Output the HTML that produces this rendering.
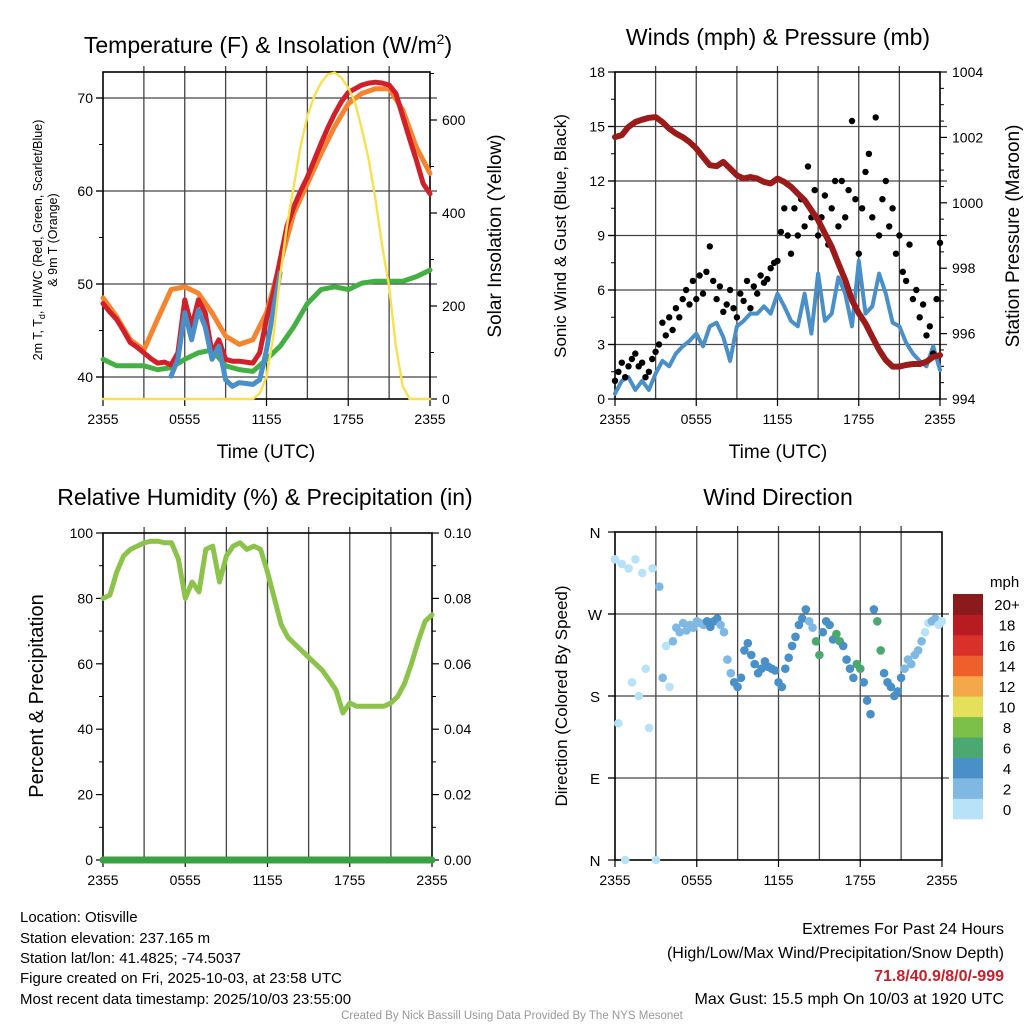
<!DOCTYPE html>
<html><head><meta charset="utf-8">
<style>
html,body{margin:0;padding:0;background:#fff;}
svg{display:block;font-family:"Liberation Sans",Arial,sans-serif;}
</style></head>
<body>
<svg id="chart" width="1024" height="1024" viewBox="0 0 1024 1024">
<rect width="1024" height="1024" fill="#fff"/>
<g id="g1"></g>
<g id="g2"></g>
<g id="g3"></g>
<g id="g4"></g>

<text x="268" y="53" font-size="23" text-anchor="middle">Temperature (F) &amp; Insolation (W/m<tspan dy="-9" font-size="14">2</tspan><tspan dy="9">)</tspan></text>
<text x="778" y="45" font-size="23" text-anchor="middle">Winds (mph) &amp; Pressure (mb)</text>
<text x="265" y="505" font-size="23" text-anchor="middle">Relative Humidity (%) &amp; Precipitation (in)</text>
<text x="778" y="505" font-size="23" text-anchor="middle">Wind Direction</text>

<text x="266" y="458" font-size="19" text-anchor="middle">Time (UTC)</text>
<text x="778" y="458" font-size="19" text-anchor="middle">Time (UTC)</text>

<text transform="translate(42,240) rotate(-90)" font-size="12.5" text-anchor="middle">2m T, T<tspan font-size="9" dy="3">d</tspan><tspan dy="-3">, HI/WC (Red, Green, Scarlet/Blue)</tspan></text>
<text transform="translate(57,240) rotate(-90)" font-size="12.5" text-anchor="middle">&amp; 9m T (Orange)</text>
<text transform="translate(501,236) rotate(-90)" font-size="19" text-anchor="middle">Solar Insolation (Yellow)</text>
<text transform="translate(566,236) rotate(-90)" font-size="17" text-anchor="middle">Sonic Wind &amp; Gust (Blue, Black)</text>
<text transform="translate(1019,236) rotate(-90)" font-size="19" text-anchor="middle">Station Pressure (Maroon)</text>
<text transform="translate(43,696) rotate(-90)" font-size="20" text-anchor="middle">Percent &amp; Precipitation</text>
<text transform="translate(567,696) rotate(-90)" font-size="17" text-anchor="middle">Direction (Colored By Speed)</text>

<g font-size="15">
<text x="20" y="922">Location: Otisville</text>
<text x="20" y="943">Station elevation: 237.165 m</text>
<text x="20" y="963">Station lat/lon: 41.4825; -74.5037</text>
<text x="20" y="983">Figure created on Fri, 2025-10-03, at 23:58 UTC</text>
<text x="20" y="1004">Most recent data timestamp: 2025/10/03 23:55:00</text>
</g>
<g font-size="16" text-anchor="end">
<text x="1004" y="934">Extremes For Past 24 Hours</text>
<text x="1004" y="958">(High/Low/Max Wind/Precipitation/Snow Depth)</text>
<text x="1004" y="981" fill="#c8202a" font-weight="bold">71.8/40.9/8/0/-999</text>
<text x="1004" y="1004">Max Gust: 15.5 mph On 10/03 at 1920 UTC</text>
</g>
<text x="512" y="1019" font-size="11.5" fill="#999" text-anchor="middle">Created By Nick Bassill Using Data Provided By The NYS Mesonet</text>
</svg>
<script>
// ---- data (hourly unless noted) ----
const tempRed=[47.9,46.2,43.7,42.6,41.5,41.3,48.3,48.3,42.6,41.9,41.7,41.5,46.2,52.6,58.3,61.5,65.1,68.3,70.6,71.4,71.7,71.4,68.0,63.3,59.7];
const temp9m=[48.5,46.5,44.0,42.9,46.2,49.4,49.7,49.0,46.9,44.4,43.5,44.0,46.9,52.2,57.6,60.8,64.0,66.9,69.4,70.5,71.0,71.0,68.7,64.7,61.9];
const dewpt=[41.9,41.2,41.2,41.2,40.8,41.0,41.9,42.6,42.9,41.2,40.8,40.6,41.9,43.3,45.4,47.9,49.4,49.7,49.4,50.1,50.3,50.3,50.3,50.8,51.5];
// half-hourly from 0 to 24
const tempFine=[47.9,47.0,46.2,45.0,43.7,43.2,42.6,42.0,41.5,41.6,41.3,42.6,48.3,45.4,48.3,46.9,42.6,44.0,41.9,41.7,41.7,41.6,41.5,42.6,46.2,49.0,52.6,56.2,58.3,60.0,61.5,63.3,65.1,66.8,68.3,69.6,70.6,71.0,71.4,71.6,71.7,71.6,71.4,70.5,68.0,65.6,63.3,60.8,59.7];
const heatIdx=[null,null,null,null,null,null,null,null,null,null,40.1,41.9,46.9,44.0,47.2,45.4,41.9,43.3,39.7,39.0,39.4,39.3,39.2,39.7,42.9,47.2,51.2,null,null,null,null,null,null,null,null,null,null,null,null,null,null,null,null,null,null,null,null,null,null];
const solar=[0,0,0,0,0,0,0,0,0,0,0,0,0,0,0,0,0,0,0,0,0,0,0,12,48,134,264,371,458,544,608,651,680,698,702,691,669,637,580,515,429,328,242,113,27,0,0,0,0];
const pressure=[1002.01,1002.07,1002.32,1002.47,1002.54,1002.6,1002.62,1002.47,1002.27,1002.12,1002.01,1001.86,1001.66,1001.4,1001.15,1001.12,1001.25,1001.05,1000.84,1000.74,1000.79,1000.74,1000.64,1000.59,1000.74,1000.64,1000.49,1000.28,1000.08,999.77,999.47,999.06,998.65,998.14,997.64,997.02,996.62,996.31,995.9,995.5,995.19,994.99,994.99,995.04,995.07,995.07,995.14,995.29,995.34];
const wind=[0.3,1.0,1.2,0.5,1.0,0.5,1.4,2.1,1.8,2.5,2.9,3.2,3.6,2.9,4.0,4.2,3.4,2.1,4.0,4.3,4.7,4.7,5.1,4.7,5.8,5.1,4.3,4.0,5.8,3.6,6.9,4.3,4.7,6.7,5.8,4.0,7.6,4.7,5.1,6.9,5.8,4.2,4.0,3.1,2.5,2.1,1.8,2.9,1.6];
// quarter-hourly
const gust=[1.0,1.5,2.0,1.2,1.8,2.2,2.5,1.8,2.0,1.2,1.5,2.2,2.6,3.0,4.2,3.5,4.5,3.8,5.0,4.5,5.5,6.0,5.2,6.5,5.5,6.8,5.8,7.0,8.4,6.5,5.5,6.2,4.8,5.2,6.0,5.0,4.5,5.8,5.4,6.5,5.0,6.2,5.8,6.8,6.4,6.6,7.2,7.5,7.6,9.2,10.5,9.0,8.0,10.5,9.0,11.0,9.5,12.8,10.0,11.5,9.0,10.0,11.2,8.5,10.5,12.0,9.5,12.0,10.0,11.5,15.3,11.0,8.0,10.5,12.5,13.5,10.0,15.5,9.0,11.0,12.0,9.5,10.5,8.0,9.0,7.0,6.5,8.5,5.5,6.0,4.5,5.2,3.5,4.0,2.5,5.5,8.6];
const direction=[330,150,325,0,320,195,330,180,315,210,145,320,0,300,200,235,190,240,255,250,260,252,258,255,262,260,258,262,256,262,265,258,250,220,205,195,190,200,230,238,225,215,205,210,218,212,210,208,195,190,210,222,235,245,258,265,275,262,255,240,225,250,262,258,242,248,240,235,220,210,200,215,210,195,175,160,275,262,230,205,195,190,180,185,200,210,220,215,225,230,240,250,260,262,265,258,262];
const rh=[80,81,88,93,95,96,97,97.5,97.5,97,97,92,80,85,82,95,96,85,93,96,97,95,96,95,88,80,72,68,66,64,62,60,58,55,52,45,48,47,47,47,47,47,48,50,54,60,67,73,75];
const precip=[0,0,0,0,0,0,0,0,0,0,0,0,0,0,0,0,0,0,0,0,0,0,0,0,0];
const xTickLabels=["2355","0555","1155","1755","2355"];
const tempTicks=[40,50,60,70];
const solarTicks=[0,200,400,600];
const windTicks=[0,3,6,9,12,15,18];
const presTicks=[994,996,998,1000,1002,1004];
const rhTicks=[0,20,40,60,80,100];
const pcpTicks=["0.00","0.02","0.04","0.06","0.08","0.10"];
const dirTicks=["N","E","S","W","N"];
const speedBins=["0","2","4","6","8","10","12","14","16","18","20+"];
const binColors=["#b8e2f8","#7fb8e3","#4a90c8","#4aa870","#7cc04a","#e5e05a","#f5a84a","#ef5f2c","#d9302a","#b81c23","#8b1a1a"];

const NS="http://www.w3.org/2000/svg";
function mk(parent,tag,attrs){const e=document.createElementNS(NS,tag);for(const k in attrs)e.setAttribute(k,attrs[k]);parent.appendChild(e);return e;}
function lin(d0,d1,r0,r1){return v=>r0+(v-d0)*(r1-r0)/(d1-d0);}

function pathFrom(arr,step,xs,ys){let d="",pen=false;arr.forEach((v,i)=>{if(v===null){pen=false;return;}d+=(pen?"L":"M")+xs(i*step).toFixed(1)+","+ys(v).toFixed(1);pen=true;});return d;}

function frame(g,x0,x1,y0,y1,hGrid){
  for(let h=3;h<24;h+=3){const x=lin(0,24,x0,x1)(h);
    const l=mk(g,"line",{x1:x,x2:x,y1:y0-6,y2:y1,stroke:"#444","stroke-width":1.3});
    
    }
  hGrid.forEach(y=>{const l=mk(g,"line",{x1:x0-7,x2:x1+7,y1:y,y2:y,stroke:"#444","stroke-width":1.3});
    
    });
  const r=mk(g,"rect",{x:x0,y:y0,width:x1-x0,height:y1-y0,fill:"none",stroke:"#000","stroke-width":1.6});
  
  
  const xs=lin(0,24,x0,x1);
  xTickLabels.forEach((s,i)=>{const x=xs(i*6);
    mk(g,"line",{x1:x,x2:x,y1:y1,y2:y1+7,stroke:"#000","stroke-width":1.2});
    const t=mk(g,"text",{x:x,y:y1+25,"font-size":14,"text-anchor":"middle"});t.textContent=s;
    
    });
}
function yTicks(g,vals,labels,ys,x,side,minorVals){
  vals.forEach((v,i)=>{const y=ys(v);
    mk(g,"line",{x1:x,x2:x+(side<0?-7:7),y1:y,y2:y,stroke:"#000","stroke-width":1.2});
    const t=mk(g,"text",{x:x+(side<0?-10:12),y:y+5,"font-size":14,"text-anchor":side<0?"end":"start"});t.textContent=labels[i];
    
    });
  (minorVals||[]).forEach(v=>{const y=ys(v);mk(g,"line",{x1:x,x2:x+(side<0?-4:4),y1:y,y2:y,stroke:"#000","stroke-width":1});});
}
function line(g,d,color,w,name){const p=mk(g,"path",{d:d,fill:"none",stroke:color,"stroke-width":w,"stroke-linejoin":"round","stroke-linecap":"round"});
  
  return p;}

// ---- Panel 1 ----
(function(){const g=document.getElementById("g1");
  const x0=103,x1=430,y0=72,y1=399;
  const xs=lin(0,24,x0,x1), yT=lin(40,70,377,98), yS=lin(0,600,399,120);
  frame(g,x0,x1,y0,y1,tempTicks.map(yT));
  yTicks(g,tempTicks,tempTicks,yT,x0,-1,[45,55,65]);
  yTicks(g,solarTicks,solarTicks,yS,x1,1,[100,300,500,700]);
  line(g,pathFrom(dewpt,1,xs,yT),"#44b044",5,"dewpoint-line");
  line(g,pathFrom(temp9m,1,xs,yT),"#f5842e",5,"temp-9m-line");
  line(g,pathFrom(tempFine,0.5,xs,yT),"#d2202a",5,"temp-2m-line");
  line(g,pathFrom(heatIdx,0.5,xs,yT),"#4a90c8",5,"heat-index-windchill-line");
  line(g,pathFrom(solar,0.5,xs,yS),"#f9e050",2.4,"solar-insolation-line");
})();

// ---- Panel 2 ----
(function(){const g=document.getElementById("g2");
  const x0=615,x1=940,y0=72,y1=399;
  const xs=lin(0,24,x0,x1), yW=lin(0,18,y1,y0), yP=lin(994,1004,y1,y0);
  frame(g,x0,x1,y0,y1,windTicks.slice(1,6).map(yW));
  yTicks(g,windTicks,windTicks,yW,x0,-1,[1.5,4.5,7.5,10.5,13.5,16.5]);
  yTicks(g,presTicks,presTicks,yP,x1,1,[994.5,995,995.5,996.5,997,997.5,998.5,999,999.5,1000.5,1001,1001.5,1002.5,1003,1003.5]);
  line(g,pathFrom(wind,0.5,xs,yW),"#4a90c8",4,"sonic-wind-line");
  gust.forEach((v,i)=>{const c=mk(g,"circle",{cx:xs(i*0.25).toFixed(1),cy:yW(v).toFixed(1),r:3.2,fill:"#000"});
    
    });
  line(g,pathFrom(pressure,0.5,xs,yP),"#9b1a1a",6,"pressure-line");
})();

// ---- Panel 3 ----
(function(){const g=document.getElementById("g3");
  const x0=103,x1=432,y0=533,y1=860;
  const xs=lin(0,24,x0,x1), yR=lin(0,100,y1,y0), yPc=lin(0,0.1,y1,y0);
  frame(g,x0,x1,y0,y1,[]);
  yTicks(g,rhTicks,rhTicks,yR,x0,-1,[10,30,50,70,90]);
  yTicks(g,[0,0.02,0.04,0.06,0.08,0.1],pcpTicks,yPc,x1,1,[0.01,0.03,0.05,0.07,0.09]);
  line(g,pathFrom(rh,0.5,xs,yR),"#8cc34a",5,"relative-humidity-line");
  line(g,pathFrom(precip,1,xs,yPc),"#3aa040",7,"precipitation-line");
})();

// ---- Panel 4 ----
(function(){const g=document.getElementById("g4");
  const x0=615,x1=942,y0=532,y1=860;
  const xs=lin(0,24,x0,x1), yD=lin(0,360,y1,y0);
  frame(g,x0,x1,y0,y1,[90,180,270].map(yD));
  [0,90,180,270,360].forEach((v,i)=>{const y=yD(v);
    mk(g,"line",{x1:x0-7,x2:x0,y1:y,y2:y,stroke:"#000","stroke-width":1.2});
    const t=mk(g,"text",{x:x0-20,y:y+6,"font-size":15,"text-anchor":"middle"});t.textContent=dirTicks[i];
    
    });
  direction.forEach((v,i)=>{const t=i*0.25;const sp=wind[Math.min(48,Math.round(t*2))];
    const bin=Math.min(10,Math.floor(sp/2));
    const c=mk(g,"circle",{cx:xs(t).toFixed(1),cy:yD(v).toFixed(1),r:4.3,fill:binColors[bin]});
    
    });
  // colorbar
  const cb=mk(g,"g",{});
  
  
  mk(cb,"text",{x:990,y:587,"font-size":15}).textContent="mph";
  const bh=(819-594)/11;
  speedBins.forEach((s,i)=>{const y=819-(i+1)*bh;
    const r=mk(cb,"rect",{x:953,y:y.toFixed(1),width:30,height:(bh+0.3).toFixed(1),fill:binColors[i]});
    
    
    const tx=mk(cb,"text",{x:1007,y:(y+bh/2+6).toFixed(1),"font-size":15,"text-anchor":"middle"});tx.textContent=s;
    
    });
})();
</script>
</body></html>
